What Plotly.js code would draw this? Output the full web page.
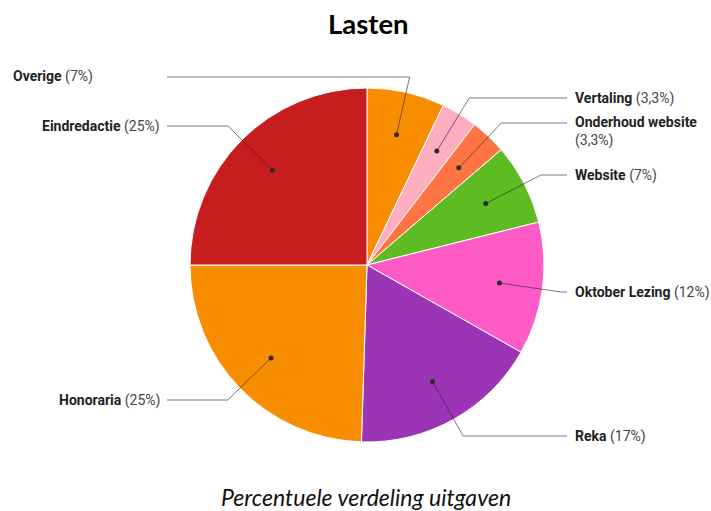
<!DOCTYPE html>
<html>
<head>
<meta charset="utf-8">
<script src="https://cdn.plot.ly/plotly-3.0.1.min.js"></script>
<style>html,body{margin:0;padding:0;background:#fff;}#chart{width:711px;height:511px;}</style>
</head>
<body>
<div id="chart"></div>
<script>
// ---- data ----
var categories = ['Overige','Vertaling','Onderhoud website','Website','Oktober Lezing','Reka','Honoraria','Eindredactie'];
var values = [7.1, 3.3, 3.3, 7.4, 12.1, 17.3, 24.5, 25.0];
var pctLabels = ['7%','3,3%','3,3%','7%','12%','17%','25%','25%'];
var sliceColors = ['#f98d00','#ffaec2','#ff7443','#5fbb22','#ff5bc8','#9b35b6','#f98d00','#c81d1f'];

// ---- label layout (pixel positions of callouts) ----
var labelSide = ['left','right','right','right','right','right','left','left'];
var labelY = [77, 98, 123, 175, 292, 436, 400, 126];
var labelX = [95, 573, 573, 573, 573, 573, 162, 162];
var lineEndRight = 567, lineEndLeft = 167;

var W = 711, H = 511;
var cxPx = 367, cyPx = 265, Rpx = 177;

var trace = {
  type: 'pie',
  labels: categories,
  values: values,
  sort: false,
  direction: 'clockwise',
  rotation: 0,
  textinfo: 'none',
  hoverinfo: 'label+percent',
  marker: {colors: sliceColors, line: {color: '#ffffff', width: 1}},
  domain: {x: [(cxPx - Rpx) / W, (cxPx + Rpx) / W], y: [1 - (cyPx + Rpx) / H, 1 - (cyPx - Rpx) / H]},
  showlegend: false
};

var layout = {
  width: W, height: H,
  margin: {l: 0, r: 0, t: 0, b: 0},
  paper_bgcolor: '#ffffff',
  showlegend: false,
  title: {text: '<b>Lasten</b>', font: {family: 'Lato, sans-serif', size: 27.5, color: '#000'}, x: 0.518, xanchor: 'center', y: 1 - 24 / H, yanchor: 'middle'},
  annotations: [],
  shapes: []
};

Plotly.newPlot('chart', [trace], layout, {displayModeBar: false, staticPlot: true}).then(function (gd) {
  var cd0 = gd.calcdata[0][0];
  var cx = cd0.cx, cy = cd0.cy, R = cd0.r;
  var total = values.reduce(function (a, b) { return a + b; }, 0);
  var px2x = function (p) { return p / W; };
  var px2y = function (p) { return 1 - p / H; };
  var shapes = [], ann = [];
  var cum = 0;
  for (var i = 0; i < values.length; i++) {
    var mid = (cum + values[i] / 2) / total * 2 * Math.PI;
    cum += values[i];
    var dx = Math.sin(mid), dy = -Math.cos(mid);
    var rd = 0.755 * R;
    var x0 = cx + dx * rd, y0 = cy + dy * rd;
    var ly = labelY[i];
    var t = (ly - y0) / dy;
    var ex = x0 + dx * t;
    var right = labelSide[i] === 'right';
    var endX = right ? lineEndRight : lineEndLeft;
    if (right && ex > endX - 6) ex = endX - 6;
    shapes.push({type: 'path', xref: 'paper', yref: 'paper',
      path: 'M' + px2x(x0) + ',' + px2y(y0) + ' L' + px2x(ex) + ',' + px2y(ly) + ' L' + px2x(endX) + ',' + px2y(ly),
      line: {color: 'rgba(40,40,40,0.62)', width: 1}});
    shapes.push({type: 'circle', xref: 'paper', yref: 'paper',
      x0: px2x(x0 - 2.5), x1: px2x(x0 + 2.5), y0: px2y(y0 - 2.5), y1: px2y(y0 + 2.5),
      fillcolor: '#2b2b2b', line: {width: 0}});
    var txt = '<b>' + categories[i] + '</b> <span style="color:#444">(' + pctLabels[i] + ')</span>';
    var yy = ly;
    if (categories[i] === 'Onderhoud website') {
      txt = '<b>' + categories[i] + '</b><br><span style="color:#444">(' + pctLabels[i] + ')</span>';
      yy = ly + 8.8;
    }
    ann.push({xref: 'paper', yref: 'paper', x: px2x(labelX[i]), y: px2y(yy),
      xanchor: right ? 'left' : 'right', yanchor: 'middle', align: 'left',
      text: txt, showarrow: false,
      font: {family: 'Roboto, sans-serif', size: 14, color: '#222'}});
  }
  ann.push({xref: 'paper', yref: 'paper', x: px2x(366), y: px2y(497), xanchor: 'center', yanchor: 'middle',
    text: '<i>Percentuele verdeling uitgaven</i>', showarrow: false,
    font: {family: 'Lato, sans-serif', size: 23, color: '#111'}});
  return Plotly.relayout(gd, {shapes: shapes, annotations: ann});
});
</script>
</body>
</html>
